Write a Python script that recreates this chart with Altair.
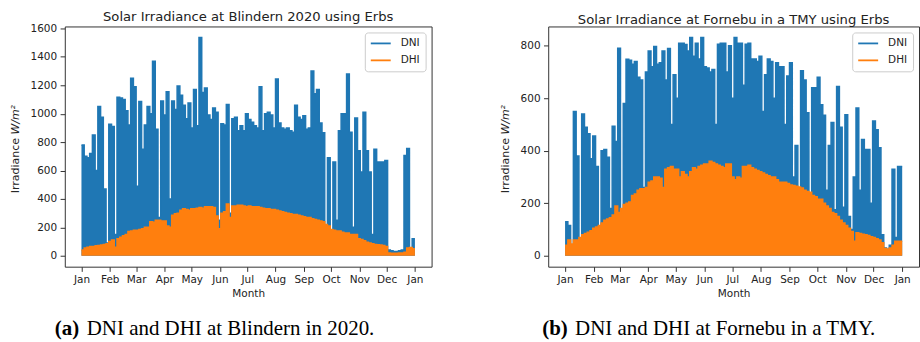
import altair as alt
import pandas as pd

# ---------------- data (3-day peaks) ----------------
STEP_DAYS = 3
MONTHS = ["Jan", "Feb", "Mar", "Apr", "May", "Jun", "Jul", "Aug", "Sep", "Oct", "Nov", "Dec", "Jan"]
LEFT_MONTH_DAYS = [0, 31, 60, 91, 121, 152, 182, 213, 244, 274, 305, 335, 366]
RIGHT_MONTH_DAYS = [0, 31, 59, 90, 120, 151, 181, 212, 243, 273, 304, 334, 365]
LEFT_YTICKS = [0, 200, 400, 600, 800, 1000, 1200, 1400, 1600]
RIGHT_YTICKS = [0, 200, 400, 600, 800]

blindern_dni = [
    780, 700, 690, 720, 850, 600, 1050, 975, 470, 90,
    925, 910, 150, 1115, 1110, 1100, 1020, 920, 1250, 1190,
    490, 1085, 750, 920, 1050, 1000, 1370, 890, 270, 1090,
    990, 1155, 400, 1090, 1030, 1195, 1130, 1060, 965, 1075,
    900, 1170, 915, 1537, 1150, 1180, 990, 960, 1040, 1010,
    250, 930, 920, 1065, 300, 965, 975, 880, 915, 880,
    1000, 960, 940, 915, 900, 1190, 880, 1000, 1010, 990,
    900, 1245, 935, 900, 890, 900, 880, 870, 1060, 975,
    960, 985, 890, 900, 1300, 1140, 1170, 935, 865, 200,
    690, 150, 660, 250, 880, 1000, 1000, 1280, 870, 200,
    970, 740, 590, 1010, 740, 590, 150, 750, 660, 660,
    660, 670, 40, 35, 30, 30, 35, 40, 705, 755,
    40, 120]
blindern_dhi = [
    40, 55, 60, 65, 65, 70, 72, 75, 80, 85,
    100, 110, 60, 120, 130, 140, 150, 170, 175, 180,
    180, 185, 190, 200, 200, 240, 235, 250, 250, 245,
    245, 210, 200, 285, 295, 300, 320, 330, 325, 320,
    330, 330, 335, 340, 335, 345, 345, 345, 340, 280,
    190, 300, 310, 365, 270, 350, 350, 355, 355, 350,
    345, 350, 345, 345, 345, 340, 335, 330, 330, 325,
    325, 320, 315, 310, 305, 300, 295, 290, 290, 285,
    280, 275, 270, 270, 260, 255, 250, 245, 240, 220,
    210, 185, 180, 175, 175, 165, 160, 160, 150, 150,
    150, 120, 115, 105, 95, 90, 85, 80, 78, 75,
    72, 65, 20, 18, 18, 18, 20, 20, 25, 55,
    58, 50]
fornebu_dni = [
    130, 115, 30, 550, 380, 40, 540, 490, 465, 370,
    456, 340, 110, 400, 405, 375, 180, 493, 435, 791,
    150, 580, 749, 745, 730, 740, 680, 670, 260, 700,
    780, 720, 797, 730, 735, 780, 670, 790, 500, 690,
    600, 810, 810, 805, 780, 832, 760, 810, 750, 832,
    720, 715, 700, 710, 500, 806, 810, 810, 700, 800,
    600, 832, 810, 810, 650, 806, 810, 750, 750, 740,
    760, 550, 690, 750, 740, 600, 735, 720, 720, 500,
    685, 735, 300, 420, 200, 705, 670, 545, 200, 640,
    640, 680, 575, 535, 250, 420, 508, 175, 645, 490,
    185, 537, 150, 100, 300, 563, 250, 443, 405, 405,
    200, 513, 480, 412, 80, 30, 25, 40, 330, 70,
    340, 340]
fornebu_dhi = [
    40, 60, 45, 60, 60, 70, 80, 85, 90, 95,
    105, 110, 115, 125, 135, 140, 145, 155, 190, 165,
    180, 195, 200, 205, 230, 235, 250, 255, 255, 260,
    280, 285, 300, 300, 295, 260, 330, 335, 340, 330,
    330, 300, 320, 310, 300, 320, 335, 330, 340, 345,
    350, 350, 360, 355, 350, 345, 340, 335, 350, 350,
    300, 290, 300, 295, 340, 340, 345, 335, 330, 325,
    320, 315, 310, 305, 300, 300, 290, 280, 280, 280,
    275, 270, 268, 265, 262, 258, 250, 245, 242, 230,
    225, 215, 215, 200, 190, 180, 165, 160, 150, 135,
    125, 115, 105, 92, 55, 88, 85, 82, 80, 77,
    72, 70, 65, 60, 50, 28, 25, 30, 40, 55,
    55, 55]

BLUE = "#1f77b4"
ORANGE = "#ff7f0e"
TXT = "#222222"


def make_frame(dni, dhi, ndays):
    days = [STEP_DAYS * i for i in range(len(dni))] + [ndays]
    return pd.DataFrame({"day": days, "DNI": dni + [dni[-1]], "DHI": dhi + [dhi[-1]]})


def label_expr(values):
    vals = ",".join(str(v) for v in values)
    names = ",".join("'" + m + "'" for m in MONTHS)
    return "[" + names + "][indexof([" + vals + "], datum.value)]"


def panel(df, ndays, month_days, xdom, yticks, ydom, title, tag, caption,
          tag_dx, cap_dx, ylab_dx, W, H):
    x = alt.X("day:Q",
              scale=alt.Scale(domain=xdom, nice=False, zero=False),
              axis=alt.Axis(values=month_days, labelExpr=label_expr(month_days),
                            title="Month"))
    yax = alt.Axis(values=yticks, title=None, format="d")
    yscale = alt.Scale(domain=ydom, nice=False, zero=False)
    cscale = alt.Scale(domain=["DNI", "DHI"], range=[BLUE, ORANGE])
    legend = alt.Legend(title=None, orient="top-right", offset=6,
                        symbolType="M-1,0H3", symbolSize=100, symbolStrokeWidth=1.8,
                        labelFontSize=10.5, labelFont="DejaVu Sans", labelColor=TXT,
                        labelOffset=19, rowPadding=5, padding=5,
                        fillColor="white", strokeColor="#cccccc", cornerRadius=3)
    base = alt.Chart(df)
    dni_area = base.mark_area(interpolate="step-after", color=BLUE).encode(
        x=x, y=alt.Y("DNI:Q", scale=yscale, axis=yax), y2=alt.datum(0))
    dni_line = base.transform_calculate(series="'DNI'").mark_line(
        interpolate="step-after", strokeWidth=1.5).encode(
        x=x, y=alt.Y("DNI:Q", scale=yscale, axis=yax),
        color=alt.Color("series:N", scale=cscale, legend=legend))
    dhi_area = base.mark_area(interpolate="step-after", color=ORANGE).encode(
        x=x, y=alt.Y("DHI:Q", scale=yscale, axis=yax), y2=alt.datum(0))
    dhi_line = base.transform_calculate(series="'DHI'").mark_line(
        interpolate="step-after", strokeWidth=1.5).encode(
        x=x, y=alt.Y("DHI:Q", scale=yscale, axis=yax),
        color=alt.Color("series:N", scale=cscale, legend=legend))

    ylab_a = alt.Chart(pd.DataFrame({"t": ["Irradiance"]})).mark_text(
        angle=270, align="right", baseline="middle", font="DejaVu Sans",
        fontSize=11, color=TXT).encode(
        x=alt.value(ylab_dx), y=alt.value(112), text="t:N")
    ylab_b = alt.Chart(pd.DataFrame({"t": ["W/m²"]})).mark_text(
        angle=270, align="left", baseline="middle", font="DejaVu Sans",
        fontStyle="italic", fontSize=11, color=TXT).encode(
        x=alt.value(ylab_dx), y=alt.value(108.5), text="t:N")
    cap_y = 336 - 26
    cap_a = alt.Chart(pd.DataFrame({"t": [tag]})).mark_text(
        align="left", baseline="alphabetic", font="Liberation Serif",
        fontWeight="bold", fontSize=21, color="#000000").encode(
        x=alt.value(tag_dx), y=alt.value(cap_y), text="t:N")
    cap_b = alt.Chart(pd.DataFrame({"t": [caption]})).mark_text(
        align="left", baseline="alphabetic", font="Liberation Serif",
        fontSize=21, color="#000000").encode(
        x=alt.value(cap_dx), y=alt.value(cap_y), text="t:N")

    return alt.layer(dni_area, dni_line, dhi_area, dhi_line,
                     ylab_a, ylab_b, cap_a, cap_b).properties(
        width=W, height=H,
        title=alt.TitleParams(title, fontSize=13.2, font="DejaVu Sans",
                              fontWeight="normal", color=TXT, offset=-11,
                              baseline="alphabetic", frame="group"))


left = panel(make_frame(blindern_dni, blindern_dhi, 366), 366, LEFT_MONTH_DAYS,
             [-18.3, 384.3], LEFT_YTICKS, [-77, 1614],
             "Solar Irradiance at Blindern 2020 using Erbs",
             "(a)", "DNI and DHI at Blindern in 2020.", -10, 22, -49, 368, 241)
right = panel(make_frame(fornebu_dni, fornebu_dhi, 365), 365, RIGHT_MONTH_DAYS,
              [-18.25, 383.2], RIGHT_YTICKS, [-41.6, 873.6],
              "Solar Irradiance at Fornebu in a TMY using Erbs",
              "(b)", "DNI and DHI at Fornebu in a TMY.", -6, 27, -42, 372, 241)

chart = alt.hconcat(left, right, spacing=117, bounds="flush").resolve_scale(
    color="independent").resolve_legend(color="independent").properties(
    padding={"left": 9, "top": 9, "right": 0, "bottom": 0}
).configure_view(stroke="#333333", strokeWidth=1).configure_axis(
    labelFont="DejaVu Sans", labelFontSize=10.5, labelColor=TXT,
    titleFont="DejaVu Sans", titleFontSize=10.5, titleColor=TXT,
    titleFontWeight="normal", tickColor="#333333", tickSize=4.7,
    labelPadding=3.5, titlePadding=3, domain=False, grid=False
).configure_title(anchor="middle")

chart.save("out.html", embed_options={"renderer": "svg", "actions": False})
